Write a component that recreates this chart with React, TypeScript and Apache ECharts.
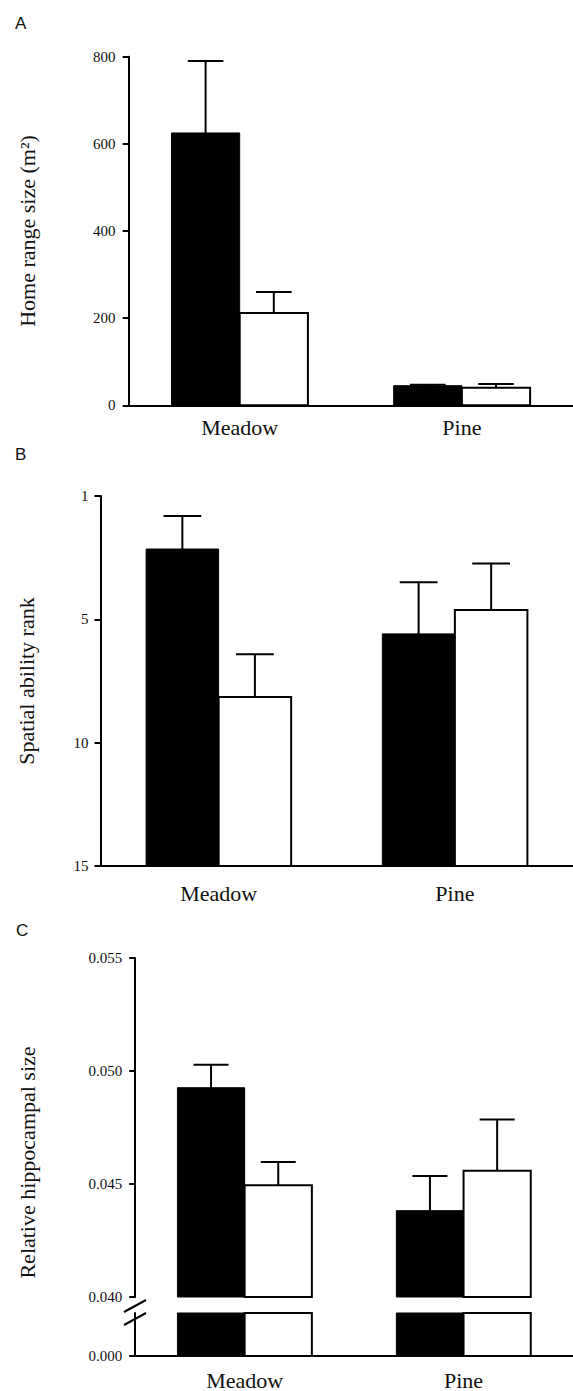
import React, { useEffect, useRef } from "react";
import * as echarts from "echarts";

// ---------- data ----------
const categories = ["Meadow", "Pine"];

// Panel A: home range size (m²)
const homeRangeFilled = [625, 45];
const homeRangeFilledSE = [165, 2];
const homeRangeOpen = [212, 40];
const homeRangeOpenSE = [48, 9];
const homeRangeTicks = { min: 0, max: 800, interval: 200 };

// Panel B: spatial ability rank (axis top labelled 1)
const rankFilled = [2.15, 5.59];
const rankFilledSE = [1.34, 2.09];
const rankOpen = [8.15, 4.62];
const rankOpenSE = [1.73, 1.88];
const rankTicks = { min: 0, max: 15, interval: 5 };
const rankTopLabel = "1";

// Panel C: relative hippocampal size
const hippoFilled = [0.04926, 0.04382];
const hippoFilledSE = [0.00102, 0.00153];
const hippoOpen = [0.04494, 0.04559];
const hippoOpenSE = [0.00103, 0.00226];
const hippoUpperTicks = { min: 0.04, max: 0.055, interval: 0.005 };
const hippoLowerTicks = { min: 0, max: 0.04 };

const SERIF = "'Liberation Serif', 'Times New Roman', serif";
const SANS = "'Liberation Sans', Arial, sans-serif";

function barSeries(
  name: string,
  xAxisIndex: number,
  yAxisIndex: number,
  values: number[],
  se: number[] | null,
  side: number,
  base: number,
  dir: number,
  clampMax: number | null
) {
  return {
    type: "custom",
    name,
    coordinateSystem: "cartesian2d",
    xAxisIndex,
    yAxisIndex,
    encode: { x: 0, y: 1 },
    data: categories.map((_, i) => [i, values[i], se ? se[i] : 0]),
    renderItem: (params: any, api: any) => {
      const ci = api.value(0);
      const v = api.value(1);
      const e = api.value(2);
      const band = api.size([1, 0])[0];
      const w = band * 0.307;
      const capW = band * 0.16;
      const shown = clampMax != null ? Math.min(v, clampMax) : v;
      const top = api.coord([ci, shown]);
      const bot = api.coord([ci, base]);
      const cx = top[0];
      const x0 = side < 0 ? cx - w : cx;
      const bx = x0 + w / 2;
      const children: any[] = [];
      if (se) {
        const ep = api.coord([ci, v + dir * e]);
        children.push({
          type: "line",
          shape: { x1: bx, y1: top[1], x2: bx, y2: ep[1] },
          style: { stroke: "#000", lineWidth: 2 },
        });
        children.push({
          type: "line",
          shape: { x1: bx - capW / 2, y1: ep[1], x2: bx + capW / 2, y2: ep[1] },
          style: { stroke: "#000", lineWidth: 2 },
        });
      }
      children.push({
        type: "rect",
        shape: {
          x: x0,
          y: Math.min(top[1], bot[1]),
          width: w,
          height: Math.abs(bot[1] - top[1]),
        },
        style: {
          fill: side < 0 ? "#000" : "#fff",
          stroke: "#000",
          lineWidth: side < 0 ? 1 : 2,
        },
      });
      return { type: "group", children };
    },
  };
}

const axisLineStyle = { show: true, onZero: false, lineStyle: { color: "#000", width: 2 } };
const yTick = { show: true, inside: false, length: 6, lineStyle: { color: "#000", width: 2 } };
const tickLabel = { color: "#111", fontFamily: SERIF, fontSize: 15 };
const catLabel = { color: "#111", fontFamily: SERIF, fontSize: 22 };
const nameStyle = { color: "#111", fontFamily: SERIF, fontSize: 22 };

export default function App() {
  const ref = useRef<HTMLDivElement>(null);

  useEffect(() => {
    if (!ref.current) return;
    const chart = echarts.init(ref.current, undefined, { renderer: "svg" });
    chart.setOption({
      animation: false,
      backgroundColor: "#fff",
      grid: [
        { left: 128.6, top: 56.7, width: 456, height: 348.6 },
        { left: 100.5, top: 496, width: 484, height: 370 },
        { left: 135.2, top: 958, width: 442, height: 339 },
        { left: 135.2, top: 1313, width: 442, height: 43.5 },
      ],
      xAxis: [
        {
          type: "category",
          gridIndex: 0,
          data: categories,
          axisLine: axisLineStyle,
          axisTick: { show: false },
          axisLabel: { ...catLabel, margin: 11 },
        },
        {
          type: "category",
          gridIndex: 1,
          data: categories,
          axisLine: axisLineStyle,
          axisTick: { show: false },
          axisLabel: { ...catLabel, margin: 16 },
        },
        {
          type: "category",
          gridIndex: 2,
          data: categories,
          show: false,
        },
        {
          type: "category",
          gridIndex: 3,
          data: categories,
          axisLine: axisLineStyle,
          axisTick: { show: false },
          axisLabel: { ...catLabel, margin: 13 },
        },
      ],
      yAxis: [
        {
          type: "value",
          gridIndex: 0,
          min: homeRangeTicks.min,
          max: homeRangeTicks.max,
          interval: homeRangeTicks.interval,
          axisLine: axisLineStyle,
          axisTick: yTick,
          splitLine: { show: false },
          axisLabel: { ...tickLabel, margin: 13 },
          name: "Home range size (m²)",
          nameLocation: "middle",
          nameRotate: 90,
          nameGap: 90,
          nameTextStyle: nameStyle,
        },
        {
          type: "value",
          gridIndex: 1,
          inverse: true,
          min: rankTicks.min,
          max: rankTicks.max,
          interval: rankTicks.interval,
          axisLine: axisLineStyle,
          axisTick: yTick,
          splitLine: { show: false },
          axisLabel: {
            ...tickLabel,
            margin: 12,
            formatter: (v: number) => (v === rankTicks.min ? rankTopLabel : String(v)),
          },
          name: "Spatial ability rank",
          nameLocation: "middle",
          nameRotate: 90,
          nameGap: 63,
          nameTextStyle: nameStyle,
        },
        {
          type: "value",
          gridIndex: 2,
          min: hippoUpperTicks.min,
          max: hippoUpperTicks.max,
          interval: hippoUpperTicks.interval,
          axisLine: axisLineStyle,
          axisTick: yTick,
          splitLine: { show: false },
          axisLabel: { ...tickLabel, margin: 13, formatter: (v: number) => v.toFixed(3) },
          name: "Relative hippocampal size",
          nameLocation: "middle",
          nameRotate: 90,
          nameGap: 97,
          nameTextStyle: { ...nameStyle, padding: [0, 70, 0, 0] },
        },
        {
          type: "value",
          gridIndex: 3,
          min: hippoLowerTicks.min,
          max: hippoLowerTicks.max,
          axisLine: axisLineStyle,
          axisTick: { ...yTick, customValues: [hippoLowerTicks.min] },
          splitLine: { show: false },
          axisLabel: {
            ...tickLabel,
            margin: 13,
            customValues: [hippoLowerTicks.min],
            formatter: (v: number) => v.toFixed(3),
          },
        },
      ],
      graphic: [
        { type: "text", left: 15, top: 15, style: { text: "A", font: `17px ${SANS}`, fill: "#111" } },
        { type: "text", left: 15, top: 446, style: { text: "B", font: `17px ${SANS}`, fill: "#111" } },
        { type: "text", left: 16, top: 922, style: { text: "C", font: `17px ${SANS}`, fill: "#111" } },
        {
          type: "line",
          shape: { x1: 124, y1: 1312, x2: 146, y2: 1300 },
          style: { stroke: "#000", lineWidth: 2 },
        },
        {
          type: "line",
          shape: { x1: 124, y1: 1325, x2: 146, y2: 1313 },
          style: { stroke: "#000", lineWidth: 2 },
        },
      ],
      series: [
        barSeries("Filled", 0, 0, homeRangeFilled, homeRangeFilledSE, -1, 0, 1, null),
        barSeries("Open", 0, 0, homeRangeOpen, homeRangeOpenSE, 1, 0, 1, null),
        barSeries("Filled", 1, 1, rankFilled, rankFilledSE, -1, rankTicks.max, -1, null),
        barSeries("Open", 1, 1, rankOpen, rankOpenSE, 1, rankTicks.max, -1, null),
        barSeries("Filled", 2, 2, hippoFilled, hippoFilledSE, -1, hippoUpperTicks.min, 1, null),
        barSeries("Open", 2, 2, hippoOpen, hippoOpenSE, 1, hippoUpperTicks.min, 1, null),
        barSeries("Filled", 3, 3, hippoFilled, null, -1, 0, 1, hippoLowerTicks.max),
        barSeries("Open", 3, 3, hippoOpen, null, 1, 0, 1, hippoLowerTicks.max),
      ],
    });
    return () => chart.dispose();
  }, []);

  return (
    <div
      ref={ref}
      style={{ position: "absolute", left: 0, top: 0, width: 573, height: 1391, background: "#fff" }}
    />
  );
}
